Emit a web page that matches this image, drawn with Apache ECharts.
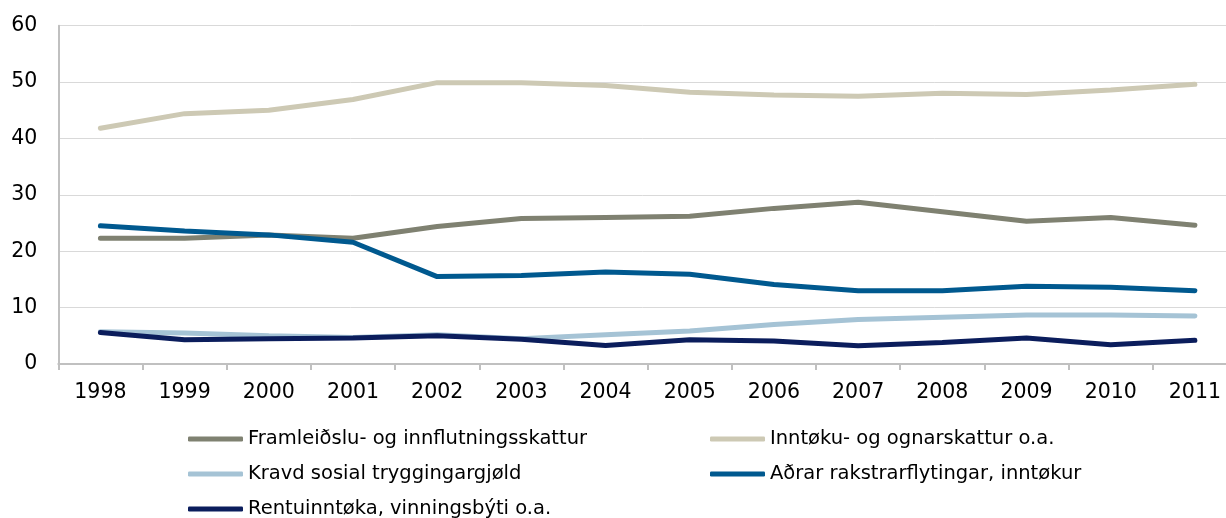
<!DOCTYPE html>
<html><head><meta charset="utf-8">
<script src="https://cdn.jsdelivr.net/npm/echarts@6/dist/echarts.min.js"></script>
<style>html,body{margin:0;padding:0;background:#fff}#c{width:1226px;height:518px}</style>
</head><body><div id="c"></div>
<script>
const years = ['1998','1999','2000','2001','2002','2003','2004','2005','2006','2007','2008','2009','2010','2011'];
const framleidslu = [22.3,22.3,22.9,22.3,24.4,25.8,26.0,26.2,27.6,28.7,27.0,25.3,26.0,24.6];
const inntoku = [41.8,44.4,45.0,46.9,49.9,49.9,49.4,48.2,47.7,47.5,48.0,47.8,48.6,49.6];
const kravd = [5.7,5.5,5.0,4.7,5.2,4.5,5.2,5.85,7.0,7.9,8.3,8.7,8.7,8.5];
const adrar = [24.5,23.6,22.9,21.6,15.5,15.7,16.3,15.9,14.1,13.0,13.0,13.8,13.6,13.0];
const rentu = [5.6,4.3,4.5,4.6,5.0,4.4,3.3,4.3,4.1,3.25,3.8,4.6,3.4,4.2];
const names = ['Framleiðslu- og innflutningsskattur','Inntøku- og ognarskattur o.a.','Kravd sosial tryggingargjøld','Aðrar rakstrarflytingar, inntøkur','Rentuinntøka, vinningsbýti o.a.'];
const values = [framleidslu, inntoku, kravd, adrar, rentu];
const colors = ['#7f8171','#cdc9b4','#a5c3d5','#00598f','#0b1d5c'];
const legendPos = [[188,429],[710,429],[188,464],[710,464],[188,499]];
const font = 'DejaVu Sans';
const chart = echarts.init(document.getElementById('c'));
chart.setOption({
  animation:false,
  grid:{left:58.3,top:25.7,bottom:154,right:-11,containLabel:false,outerBoundsMode:'none'},
  legend: names.map((n,i)=>({data:[n],left:legendPos[i][0],top:legendPos[i][1],padding:0,icon:'roundRect',itemWidth:55,itemHeight:5,itemGap:0,
    textStyle:{fontFamily:font,fontSize:19.5,color:'#000'}})),
  xAxis:{type:'category',data:years,boundaryGap:true,
    axisLine:{lineStyle:{color:'#c0c0c0',width:2}},
    axisTick:{show:true,length:6,lineStyle:{color:'#c0c0c0',width:2}},
    axisLabel:{fontFamily:font,fontSize:20.5,color:'#000',margin:18,hideOverlap:false}},
  yAxis:{type:'value',min:0,max:60,interval:10,
    axisLine:{show:true,lineStyle:{color:'#c0c0c0',width:2}},
    splitLine:{lineStyle:{color:'#d9d9d9',width:1}},
    axisLabel:{fontFamily:font,fontSize:20.5,color:'#000',margin:21}},
  series: names.map((n,i)=>({name:n,type:'line',data:values[i],symbol:'none',
    lineStyle:{color:colors[i],width:5,cap:'round'},itemStyle:{color:colors[i]},z:2+i}))
});
</script></body></html>
